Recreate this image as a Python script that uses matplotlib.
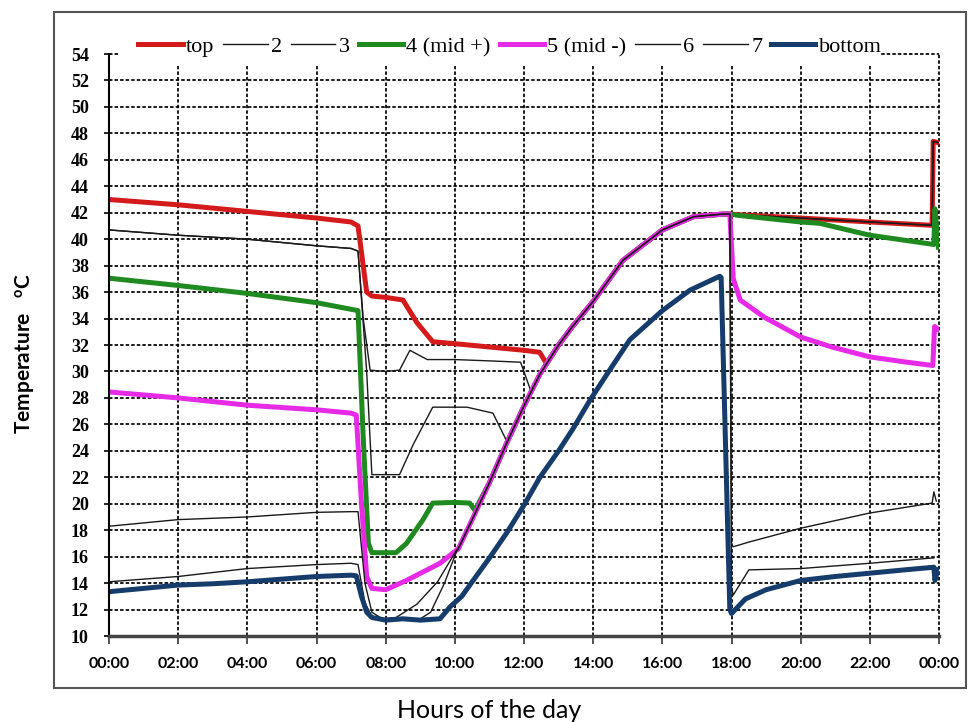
import matplotlib
matplotlib.use("Agg")
import matplotlib.pyplot as plt
from matplotlib.patches import Rectangle

plt.rcParams["mathtext.fontset"] = "custom"
plt.rcParams["mathtext.rm"] = "Lato"
plt.rcParams["mathtext.bf"] = "Lato:bold"

# shared warming curve (all upper sensors merge into it around noon)
rise_h = [10.1, 10.5, 11.0, 11.5, 12.0, 12.46, 13.0, 13.4, 14.0, 14.86, 16.0, 16.9, 17.75, 17.95]
rise_t = [16.6, 18.8, 21.6, 24.6, 27.4, 29.8, 32.0, 33.4, 35.3, 38.4, 40.7, 41.7, 41.9, 41.9]

top_h = [0, 1, 2, 3, 4, 5, 6, 7.0, 7.2, 7.3, 7.45, 7.6, 8.0, 8.5, 8.9, 9.36, 10.0, 11.0, 12.0, 12.45, 12.65]
top_t = [43.0, 42.8, 42.6, 42.35, 42.1, 41.85, 41.6, 41.3, 41.0, 39.0, 36.0, 35.7, 35.6, 35.4, 33.7, 32.25, 32.1, 31.85, 31.6, 31.45, 30.6]
top_post_h = [18.2, 20.0, 22.0, 23.8, 23.83, 23.97]
top_post_t = [41.85, 41.6, 41.3, 41.05, 47.4, 47.3]

s2_h = [0, 2, 4, 6, 7.0, 7.2, 7.35, 7.55, 8.0, 8.4, 8.7, 9.2, 10.0, 11.0, 11.9, 12.05, 12.2]
s2_t = [40.7, 40.3, 40.0, 39.5, 39.3, 39.1, 34.0, 30.1, 30.0, 30.1, 31.6, 30.9, 30.9, 30.8, 30.7, 29.6, 28.5]

s3_h = [0, 2, 4, 6, 7.0, 7.2, 7.45, 7.6, 8.4, 8.8, 9.36, 10.35, 11.1, 11.45]
s3_t = [40.7, 40.3, 40.0, 39.5, 39.3, 39.1, 30.0, 22.2, 22.2, 24.5, 27.3, 27.3, 26.85, 25.0]

mid_p_h = [0, 2, 4, 6, 7.0, 7.2, 7.35, 7.5, 7.6, 8.3, 8.6, 9.08, 9.36, 10.0, 10.43, 10.58]
mid_p_t = [37.05, 36.5, 35.9, 35.2, 34.7, 34.6, 25.0, 17.0, 16.3, 16.3, 17.0, 18.8, 20.05, 20.1, 20.05, 19.5]
mid_p_post_h = [18.2, 20.0, 20.55, 22.0, 23.85, 23.88, 23.98]
mid_p_post_t = [41.8, 41.3, 41.2, 40.3, 39.6, 42.3, 39.4]

mid_m_h = [0, 2, 4, 6, 7.0, 7.15, 7.3, 7.45, 7.6, 8.0, 8.6, 9.57]
mid_m_t = [28.45, 28.0, 27.45, 27.1, 26.85, 26.7, 20.0, 14.5, 13.6, 13.5, 14.2, 15.5]
mid_m_post_h = [18.05, 18.25, 18.95, 20.0, 20.9, 22.0, 23.07, 23.82, 23.87, 23.97]
mid_m_post_t = [37.0, 35.4, 34.1, 32.6, 31.85, 31.1, 30.7, 30.45, 33.4, 33.2]

s6_h = [0, 2, 4, 6, 7.0, 7.2, 7.4, 7.6, 7.9, 8.3, 8.9, 9.5, 10.05]
s6_t = [18.3, 18.8, 19.0, 19.35, 19.4, 19.4, 14.0, 11.8, 11.3, 11.4, 12.4, 14.1, 16.5]
s6_post_h = [18.0, 18.05, 18.5, 20.0, 22.0, 23.8, 23.85, 23.92]
s6_post_t = [16.9, 16.75, 17.1, 18.15, 19.3, 20.05, 20.9, 20.2]

s7_h = [0, 2, 4, 6, 7.0, 7.2, 7.4, 7.6, 8.0, 9.0, 9.3, 9.7, 10.05]
s7_t = [14.1, 14.5, 15.1, 15.4, 15.5, 15.4, 12.5, 11.5, 11.2, 11.3, 11.8, 14.0, 16.4]
s7_post_h = [18.0, 18.05, 18.5, 20.0, 22.0, 23.8, 23.85]
s7_post_t = [13.6, 13.1, 15.0, 15.1, 15.5, 15.9, 15.9]

bot_h = [0, 1, 2, 3, 4, 5, 6, 7.0, 7.15, 7.3, 7.45, 7.6, 8.0, 8.5, 9.0, 9.57, 9.86, 10.2, 10.5, 11.0,
         11.5, 12.0, 12.46, 13.0, 13.4, 13.9, 14.5, 15.06, 16.0, 16.8, 17.66, 17.7, 17.95, 18.0,
         18.4, 19.0, 20.0, 21.0, 22.0, 23.0, 23.85, 23.88, 23.97]
bot_t = [13.35, 13.6, 13.85, 13.95, 14.1, 14.3, 14.5, 14.6, 14.55, 13.0, 11.8, 11.4, 11.2, 11.3, 11.2, 11.3, 12.2, 13.0, 14.1, 15.9,
         17.8, 19.9, 22.0, 24.0, 25.6, 27.8, 30.2, 32.4, 34.6, 36.15, 37.2, 37.1, 12.0, 11.7,
         12.8, 13.5, 14.2, 14.5, 14.75, 15.0, 15.2, 14.2, 15.0]

hour_ticks = list(range(0, 25, 2))
hour_labels = ["00:00", "02:00", "04:00", "06:00", "08:00", "10:00", "12:00",
               "14:00", "16:00", "18:00", "20:00", "22:00", "00:00"]


def join(pre_h, pre_t, post_h=None, post_t=None):
    # pre segment, then the shared rising curve, then the evening part
    h = list(pre_h)
    t = list(pre_t)
    for x, y in zip(rise_h, rise_t):
        if x > pre_h[-1]:
            h.append(x)
            t.append(y)
    if post_h is not None:
        h += list(post_h)
        t += list(post_t)
    return h, t


series = [
    ("top", join(top_h, top_t, top_post_h, top_post_t), "#d41a1a", 3.6),
    ("2", join(s2_h, s2_t, top_post_h, top_post_t), "#1a1a1a", 1.0),
    ("3", join(s3_h, s3_t, top_post_h, top_post_t), "#1a1a1a", 1.0),
    ("4 (mid +)", join(mid_p_h, mid_p_t, mid_p_post_h, mid_p_post_t), "#1f8a1f", 3.6),
    ("5 (mid -)", join(mid_m_h, mid_m_t, mid_m_post_h, mid_m_post_t), "#e62ae6", 3.6),
    ("6", join(s6_h, s6_t, s6_post_h, s6_post_t), "#1a1a1a", 1.0),
    ("7", join(s7_h, s7_t, s7_post_h, s7_post_t), "#1a1a1a", 1.0),
    ("bottom", (bot_h, bot_t), "#163c6b", 3.6),
]

fig = plt.figure(figsize=(9.69, 7.22), dpi=100)
ax = fig.add_axes([0.1125, 0.1191, 0.8566, 0.8061])

for name, (h, t), color, lw in series:
    ax.plot(h, t, color=color, linewidth=lw, label=name, solid_joinstyle="round")

ax.set_xlim(0, 24)
ax.set_ylim(10, 54)
ax.set_xticks(hour_ticks)
ax.set_xticklabels(hour_labels, family="Lato", fontweight="bold", fontsize=11.5)
ax.set_yticks(range(10, 55, 2))
for lab in ax.get_yticklabels():
    lab.set_family("Liberation Serif")
    lab.set_fontweight("bold")
    lab.set_fontsize(13)
ax.tick_params(axis="x", length=6, width=1.2, pad=9, color="#333333")
ax.tick_params(axis="y", length=3.5, width=1.2, pad=11)

ax.set_axisbelow(True)
ax.grid(True, color="black", linestyle=(0, (2.0, 1.2)), linewidth=1.25)
for gl in ax.get_xgridlines() + ax.get_ygridlines():
    gl.set_clip_on(False)

for side in ["top", "right"]:
    ax.spines[side].set_visible(False)
ax.spines["left"].set_linewidth(1.5)
ax.spines["bottom"].set_linewidth(2.5)
ax.spines["bottom"].set_color("#444444")

# white band over the top of the plot, then the legend on it
band = Rectangle((0.1238, 0.9086), 0.784, 0.0526, transform=fig.transFigure,
                 facecolor="white", edgecolor="none", zorder=3)
fig.add_artist(band)

handles, labels = ax.get_legend_handles_labels()
leg = fig.legend(handles, labels, ncol=8, loc="center left", bbox_to_anchor=(0.1265, 0.935),
                 prop={"family": "Liberation Serif", "size": 16},
                 handlelength=2.0, handletextpad=0.15, columnspacing=0.4, borderpad=0.2,
                 frameon=False)
leg.set_zorder(6)

fig.text(0.0258, 0.51, r"Temperature   $\mathbf{^{o}}$C", rotation=90, ha="center", va="center",
         family="Lato", fontweight="bold", fontsize=15)
fig.text(0.505, 0.0166, "Hours of the day", ha="center", va="center", family="Lato", fontsize=18)

fig.add_artist(Rectangle((0.0557, 0.047), 0.941, 0.936, transform=fig.transFigure,
                         fill=False, edgecolor="#555555", linewidth=1.5, zorder=3))

fig.savefig("out.png", dpi=100)
